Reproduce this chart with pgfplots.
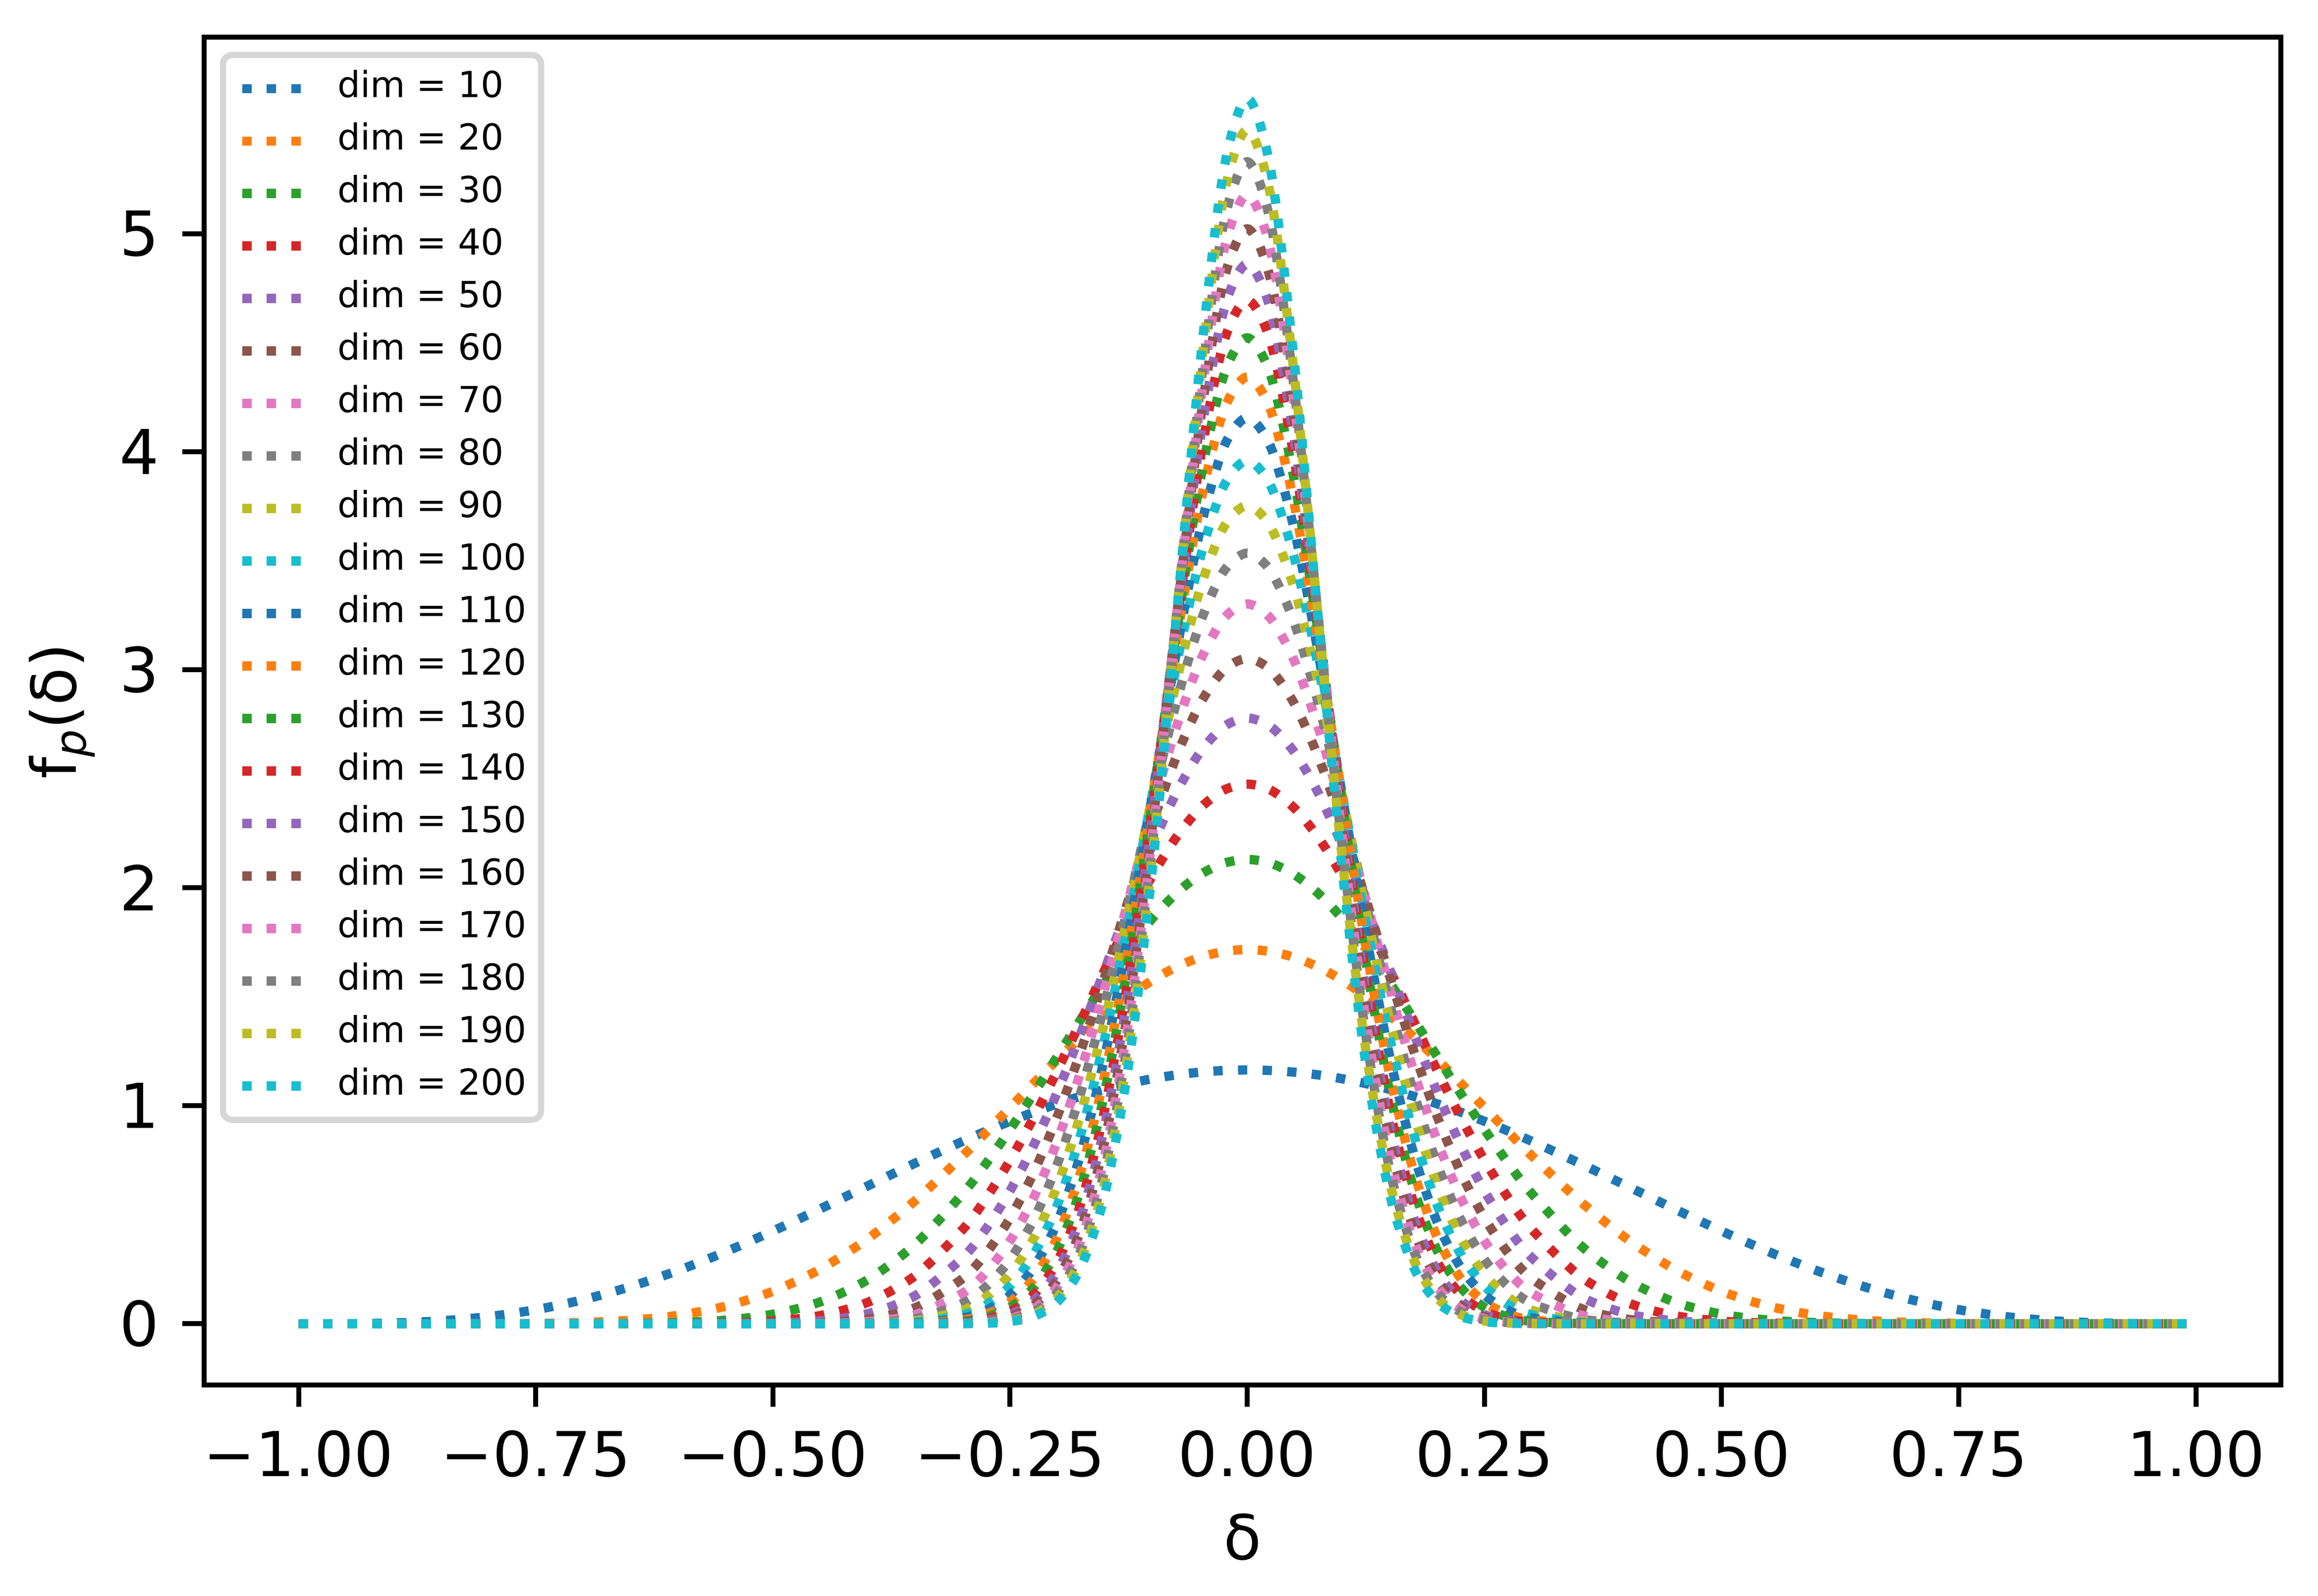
\documentclass[border=0pt]{standalone}
\usepackage{fontspec}
\setmainfont{DejaVu Sans}
\usepackage{pgfplots}
\usepackage{pgfplotstable}
\pgfplotsset{compat=1.18}
\definecolor{c1}{HTML}{1F77B4}
\definecolor{c2}{HTML}{FF7F0E}
\definecolor{c3}{HTML}{2CA02C}
\definecolor{c4}{HTML}{D62728}
\definecolor{c5}{HTML}{9467BD}
\definecolor{c6}{HTML}{8C564B}
\definecolor{c7}{HTML}{E377C2}
\definecolor{c8}{HTML}{7F7F7F}
\definecolor{c9}{HTML}{BCBD22}
\definecolor{c10}{HTML}{17BECF}
\definecolor{legendgray}{HTML}{D6D6D6}
\newcommand{\lgs}{\rule[-0.96pt]{0pt}{5.2pt}}
\pgfplotsset{dotline/.style={line width=1.5pt, dash pattern=on 1.5pt off 2.475pt, smooth}}

\pgfplotstableread{
x d10 d20 d30 d40 d50 d60 d70 d80 d90 d100 d110 d120 d130 d140 d150 d160 d170 d180 d190 d200
-1.0 0 0 0 0 0 0 0 0 0 0 0 0 0 0 0 0 0 0 0 0
-0.95 0.0003 0 0 0 0 0 0 0 0 0 0 0 0 0 0 0 0 0 0 0
-0.9 0.0035 0 0 0 0 0 0 0 0 0 0 0 0 0 0 0 0 0 0 0
-0.85 0.0131 0 0 0 0 0 0 0 0 0 0 0 0 0 0 0 0 0 0 0
-0.8 0.0326 0.0003 0 0 0 0 0 0 0 0 0 0 0 0 0 0 0 0 0 0
-0.75 0.0645 0.0015 0 0 0 0 0 0 0 0 0 0 0 0 0 0 0 0 0 0
-0.7 0.1103 0.0056 0.0002 0 0 0 0 0 0 0 0 0 0 0 0 0 0 0 0 0
-0.65 0.1704 0.0161 0.0013 0.0001 0 0 0 0 0 0 0 0 0 0 0 0 0 0 0 0
-0.6 0.2441 0.0386 0.0052 0.0006 0.0001 0 0 0 0 0 0 0 0 0 0 0 0 0 0 0
-0.55 0.3299 0.0803 0.0165 0.0032 0.0006 0.0001 0 0 0 0 0 0 0 0 0 0 0 0 0 0
-0.5 0.4253 0.1488 0.0438 0.0121 0.0032 0.0008 0.0002 0.0001 0 0 0 0 0 0 0 0 0 0 0 0
-0.45 0.5273 0.2508 0.1004 0.0376 0.0136 0.0048 0.0017 0.0006 0.0002 0.0001 0 0 0 0 0 0 0 0 0 0
-0.4 0.6324 0.3899 0.2024 0.0984 0.0462 0.0212 0.0096 0.0043 0.0019 0.0008 0.0004 0.0002 0.0001 0 0 0 0 0 0 0
-0.35 0.7368 0.5651 0.3649 0.2206 0.1288 0.0736 0.0414 0.0231 0.0127 0.0070 0.0038 0.0021 0.0011 0.0006 0.0003 0.0002 0.0001 0.0001 0 0
-0.3 0.8368 0.7699 0.5963 0.4324 0.3029 0.2076 0.1402 0.0936 0.0620 0.0408 0.0267 0.0175 0.0113 0.0073 0.0047 0.0031 0.0020 0.0013 0.0008 0.0005
-0.275 0.8840 0.8796 0.7367 0.5778 0.4377 0.3245 0.2370 0.1712 0.1227 0.0873 0.0619 0.0436 0.0307 0.0215 0.0150 0.0105 0.0073 0.0051 0.0035 0.0024
-0.25 0.9287 0.9916 0.8912 0.7502 0.6097 0.4849 0.3800 0.2946 0.2265 0.1731 0.1316 0.0996 0.0751 0.0565 0.0423 0.0317 0.0237 0.0176 0.0131 0.0098
-0.225 0.9706 1.1036 1.0562 0.9468 0.8196 0.6942 0.5793 0.4783 0.3917 0.3187 0.2580 0.2079 0.1670 0.1337 0.1068 0.0851 0.0677 0.0537 0.0426 0.0337
-0.2 1.0091 1.2130 1.2275 1.1633 1.0645 0.9533 0.8411 0.7342 0.6356 0.5467 0.4679 0.3987 0.3385 0.2866 0.2419 0.2038 0.1713 0.1438 0.1205 0.1008
-0.175 1.0440 1.3175 1.3996 1.3924 1.3377 1.2575 1.1648 1.0673 0.9700 0.8760 0.7869 0.7039 0.6275 0.5576 0.4942 0.4370 0.3857 0.3398 0.2989 0.2626
-0.15 1.0750 1.4144 1.5665 1.6249 1.6276 1.5952 1.5405 1.4718 1.3946 1.3131 1.2299 1.1471 1.0660 0.9877 0.9128 0.8416 0.7744 0.7113 0.6524 0.5974
-0.125 1.1017 1.5012 1.7220 1.8499 1.9190 1.9479 1.9482 1.9277 1.8917 1.8447 1.7894 1.7285 1.6636 1.5964 1.5278 1.4589 1.3903 1.3226 1.2563 1.1915
-0.1 1.1239 1.5757 1.8597 2.0555 2.1939 2.2914 2.3580 2.4005 2.4239 2.4318 2.4272 2.4123 2.3889 2.3586 2.3225 2.2819 2.2374 2.1900 2.1402 2.0886
-0.075 1.1413 1.6358 1.9737 2.2302 2.4335 2.5983 2.7333 2.8447 2.9364 3.0117 3.0730 3.1221 3.1608 3.1902 3.2115 3.2257 3.2334 3.2353 3.2323 3.2246
-0.05 1.1539 1.6801 2.0591 2.3635 2.6197 2.8413 3.0363 3.2100 3.3658 3.5068 3.6347 3.7513 3.8577 3.9552 4.0446 4.1266 4.2019 4.2709 4.3344 4.3925
-0.025 1.1616 1.7071 2.1120 2.4470 2.7379 2.9975 3.2335 3.4506 3.6523 3.8411 4.0188 4.1868 4.3463 4.4982 4.6432 4.7821 4.9152 5.0431 5.1663 5.2850
0 1.1641 1.7162 2.1299 2.4755 2.7784 3.0514 3.3019 3.5347 3.7530 3.9594 4.1555 4.3428 4.5223 4.6950 4.8615 5.0226 5.1786 5.3300 5.4773 5.6207
0.025 1.1616 1.7071 2.1120 2.4470 2.7379 2.9975 3.2335 3.4506 3.6523 3.8411 4.0188 4.1868 4.3463 4.4982 4.6432 4.7821 4.9152 5.0431 5.1663 5.2850
0.05 1.1539 1.6801 2.0591 2.3635 2.6197 2.8413 3.0363 3.2100 3.3658 3.5068 3.6347 3.7513 3.8577 3.9552 4.0446 4.1266 4.2019 4.2709 4.3344 4.3925
0.075 1.1413 1.6358 1.9737 2.2302 2.4335 2.5983 2.7333 2.8447 2.9364 3.0117 3.0730 3.1221 3.1608 3.1902 3.2115 3.2257 3.2334 3.2353 3.2323 3.2246
0.1 1.1239 1.5757 1.8597 2.0555 2.1939 2.2914 2.3580 2.4005 2.4239 2.4318 2.4272 2.4123 2.3889 2.3586 2.3225 2.2819 2.2374 2.1900 2.1402 2.0886
0.125 1.1017 1.5012 1.7220 1.8499 1.9190 1.9479 1.9482 1.9277 1.8917 1.8447 1.7894 1.7285 1.6636 1.5964 1.5278 1.4589 1.3903 1.3226 1.2563 1.1915
0.15 1.0750 1.4144 1.5665 1.6249 1.6276 1.5952 1.5405 1.4718 1.3946 1.3131 1.2299 1.1471 1.0660 0.9877 0.9128 0.8416 0.7744 0.7113 0.6524 0.5974
0.175 1.0440 1.3175 1.3996 1.3924 1.3377 1.2575 1.1648 1.0673 0.9700 0.8760 0.7869 0.7039 0.6275 0.5576 0.4942 0.4370 0.3857 0.3398 0.2989 0.2626
0.2 1.0091 1.2130 1.2275 1.1633 1.0645 0.9533 0.8411 0.7342 0.6356 0.5467 0.4679 0.3987 0.3385 0.2866 0.2419 0.2038 0.1713 0.1438 0.1205 0.1008
0.225 0.9706 1.1036 1.0562 0.9468 0.8196 0.6942 0.5793 0.4783 0.3917 0.3187 0.2580 0.2079 0.1670 0.1337 0.1068 0.0851 0.0677 0.0537 0.0426 0.0337
0.25 0.9287 0.9916 0.8912 0.7502 0.6097 0.4849 0.3800 0.2946 0.2265 0.1731 0.1316 0.0996 0.0751 0.0565 0.0423 0.0317 0.0237 0.0176 0.0131 0.0098
0.275 0.8840 0.8796 0.7367 0.5778 0.4377 0.3245 0.2370 0.1712 0.1227 0.0873 0.0619 0.0436 0.0307 0.0215 0.0150 0.0105 0.0073 0.0051 0.0035 0.0024
0.3 0.8368 0.7699 0.5963 0.4324 0.3029 0.2076 0.1402 0.0936 0.0620 0.0408 0.0267 0.0175 0.0113 0.0073 0.0047 0.0031 0.0020 0.0013 0.0008 0.0005
0.35 0.7368 0.5651 0.3649 0.2206 0.1288 0.0736 0.0414 0.0231 0.0127 0.0070 0.0038 0.0021 0.0011 0.0006 0.0003 0.0002 0.0001 0.0001 0 0
0.4 0.6324 0.3899 0.2024 0.0984 0.0462 0.0212 0.0096 0.0043 0.0019 0.0008 0.0004 0.0002 0.0001 0 0 0 0 0 0 0
0.45 0.5273 0.2508 0.1004 0.0376 0.0136 0.0048 0.0017 0.0006 0.0002 0.0001 0 0 0 0 0 0 0 0 0 0
0.5 0.4253 0.1488 0.0438 0.0121 0.0032 0.0008 0.0002 0.0001 0 0 0 0 0 0 0 0 0 0 0 0
0.55 0.3299 0.0803 0.0165 0.0032 0.0006 0.0001 0 0 0 0 0 0 0 0 0 0 0 0 0 0
0.6 0.2441 0.0386 0.0052 0.0006 0.0001 0 0 0 0 0 0 0 0 0 0 0 0 0 0 0
0.65 0.1704 0.0161 0.0013 0.0001 0 0 0 0 0 0 0 0 0 0 0 0 0 0 0 0
0.7 0.1103 0.0056 0.0002 0 0 0 0 0 0 0 0 0 0 0 0 0 0 0 0 0
0.75 0.0645 0.0015 0 0 0 0 0 0 0 0 0 0 0 0 0 0 0 0 0 0
0.8 0.0326 0.0003 0 0 0 0 0 0 0 0 0 0 0 0 0 0 0 0 0 0
0.85 0.0131 0 0 0 0 0 0 0 0 0 0 0 0 0 0 0 0 0 0 0
0.9 0.0035 0 0 0 0 0 0 0 0 0 0 0 0 0 0 0 0 0 0 0
0.95 0.0003 0 0 0 0 0 0 0 0 0 0 0 0 0 0 0 0 0 0 0
0.99 0 0 0 0 0 0 0 0 0 0 0 0 0 0 0 0 0 0 0 0
}\data

\begin{document}
\begin{tikzpicture}
\useasboundingbox (0,0) rectangle (374.24pt,257.68pt);
\begin{axis}[
  at={(32.96pt,34.0pt)}, anchor=south west,
  width=335.28pt, height=217.68pt, scale only axis,
  xmin=-1.0995, xmax=1.0895, ymin=-0.281, ymax=5.9017,
  axis line style={line width=0.8pt, black},
  tick style={line width=0.8pt, black},
  tick align=outside, major tick length=3.5pt, tick pos=left,
  xtick={-1,-0.75,-0.5,-0.25,0,0.25,0.5,0.75,1},
  xticklabels={−1.00,−0.75,−0.50,−0.25,0.00,0.25,0.50,0.75,1.00},
  ytick={0,1,2,3,4,5},
  yticklabels={0,1,2,3,4,5},
  xticklabel style={inner sep=0pt, anchor=base, yshift=-11.22pt, font=\fontsize{10pt}{12pt}\selectfont},
  yticklabel style={inner sep=0pt, anchor=east, xshift=-3.6pt, font=\fontsize{10pt}{12pt}\selectfont},
  xlabel={δ},
  ylabel={f\raisebox{-1.6pt}{\fontsize{7pt}{7pt}\selectfont\itshape p}(δ)},
  xlabel style={at={(axis description cs:0.5,-0.12955)}, anchor=base, inner sep=0pt, font=\fontsize{10pt}{12pt}\selectfont},
  ylabel style={at={(axis description cs:-0.06174,0.5)}, anchor=base, inner sep=0pt, font=\fontsize{10pt}{12pt}\selectfont},
  legend cell align=left,
  legend image code/.code={\path (0pt,-0.88pt); \draw[#1] (0pt,0pt) -- (11.6pt,0pt);},
  legend style={at={(axis description cs:0,1)}, anchor=north west, xshift=3.04pt, yshift=-2.88pt,
    outer sep=0pt, inner xsep=2.35pt, inner ysep=2.48pt, draw=legendgray, line width=1pt,
    rounded corners=1.5pt, fill=white, font=\fontsize{5.79pt}{7pt}\selectfont,
    row sep=2.58pt, column sep=3.06pt, nodes={inner sep=0pt}},
]
\addplot[c1, dotline] table[x=x,y=d10]{\data}; \addlegendentry{\lgs dim = 10}
\addplot[c2, dotline] table[x=x,y=d20]{\data}; \addlegendentry{\lgs dim = 20}
\addplot[c3, dotline] table[x=x,y=d30]{\data}; \addlegendentry{\lgs dim = 30}
\addplot[c4, dotline] table[x=x,y=d40]{\data}; \addlegendentry{\lgs dim = 40}
\addplot[c5, dotline] table[x=x,y=d50]{\data}; \addlegendentry{\lgs dim = 50}
\addplot[c6, dotline] table[x=x,y=d60]{\data}; \addlegendentry{\lgs dim = 60}
\addplot[c7, dotline] table[x=x,y=d70]{\data}; \addlegendentry{\lgs dim = 70}
\addplot[c8, dotline] table[x=x,y=d80]{\data}; \addlegendentry{\lgs dim = 80}
\addplot[c9, dotline] table[x=x,y=d90]{\data}; \addlegendentry{\lgs dim = 90}
\addplot[c10, dotline] table[x=x,y=d100]{\data}; \addlegendentry{\lgs dim = 100}
\addplot[c1, dotline] table[x=x,y=d110]{\data}; \addlegendentry{\lgs dim = 110}
\addplot[c2, dotline] table[x=x,y=d120]{\data}; \addlegendentry{\lgs dim = 120}
\addplot[c3, dotline] table[x=x,y=d130]{\data}; \addlegendentry{\lgs dim = 130}
\addplot[c4, dotline] table[x=x,y=d140]{\data}; \addlegendentry{\lgs dim = 140}
\addplot[c5, dotline] table[x=x,y=d150]{\data}; \addlegendentry{\lgs dim = 150}
\addplot[c6, dotline] table[x=x,y=d160]{\data}; \addlegendentry{\lgs dim = 160}
\addplot[c7, dotline] table[x=x,y=d170]{\data}; \addlegendentry{\lgs dim = 170}
\addplot[c8, dotline] table[x=x,y=d180]{\data}; \addlegendentry{\lgs dim = 180}
\addplot[c9, dotline] table[x=x,y=d190]{\data}; \addlegendentry{\lgs dim = 190}
\addplot[c10, dotline] table[x=x,y=d200]{\data}; \addlegendentry{\lgs dim = 200}
\end{axis}
\end{tikzpicture}
\end{document}
